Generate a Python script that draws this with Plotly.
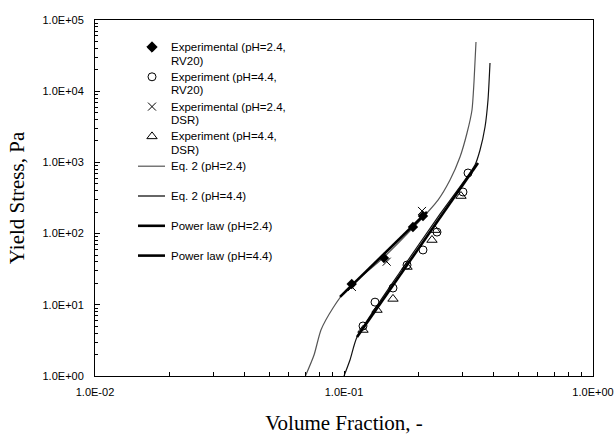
import plotly.graph_objects as go

# ---- measured yield stress vs. volume fraction ----
# pH = 2.4, RV20 viscometer
phi_rv20_24 = [0.1074, 0.1447, 0.1892, 0.2076]
tau_rv20_24 = [19.6, 45.4, 124, 177]
# pH = 4.4, RV20 viscometer
phi_rv20_44 = [0.1192, 0.1332, 0.1573, 0.1791, 0.2076, 0.2363, 0.3005, 0.3148]
tau_rv20_44 = [5.04, 10.9, 17.2, 36.2, 58.9, 105, 384, 710]
# pH = 2.4, DSR rheometer
phi_dsr_24 = [0.1076, 0.1484, 0.2057]
tau_dsr_24 = [17.8, 40.3, 208]
# pH = 4.4, DSR rheometer
phi_dsr_44 = [0.1192, 0.1357, 0.1573, 0.1791, 0.2256, 0.2320, 0.2950]
tau_dsr_44 = [4.43, 8.45, 12.1, 34.0, 81.3, 112, 337]

# ---- Eq. 2 model curves ----
phi_eq2_24 = [0.070, 0.0758, 0.0808, 0.0903, 0.1019, 0.1434, 0.1892, 0.2385,
              0.2665, 0.2923, 0.3119, 0.3266, 0.3327, 0.3389]
tau_eq2_24 = [1.0, 1.97, 4.43, 9.02, 16.1, 45.4, 120, 296,
              566, 1191, 2588, 5445, 13460, 49100]
phi_eq2_44 = [0.100, 0.1057, 0.1128, 0.1678, 0.2429, 0.3358, 0.3518, 0.3684,
              0.3787, 0.3858]
tau_eq2_44 = [1.0, 1.68, 3.53, 28.9, 188, 919, 1494, 3142, 7520, 24900]

# ---- power-law fits (end points) ----
phi_pl_24 = [0.0964, 0.2154]
tau_pl_24 = [12.9, 201]
phi_pl_44 = [0.1128, 0.3453]
tau_pl_44 = [3.53, 980]

# axis ticks
x_ticks = [0.01, 0.1, 1]
x_text = ["1.0E-02", "1.0E-01", "1.0E+00"]
y_ticks = [1, 10, 100, 1000, 10000, 100000]
y_text = ["1.0E+00", "1.0E+01", "1.0E+02", "1.0E+03", "1.0E+04", "1.0E+05"]

# legend entries: (label lines, kind)
legend_items = [
    (["Experimental (pH=2.4,", "RV20)"], "diamond"),
    (["Experiment (pH=4.4,", "RV20)"], "circle-open"),
    (["Experimental (pH=2.4,", "DSR)"], "x-thin-open"),
    (["Experiment (pH=4.4,", "DSR)"], "triangle-up-open"),
    (["Eq. 2 (pH=2.4)"], "thin-light"),
    (["Eq. 2 (pH=4.4)"], "thin"),
    (["Power law (pH=2.4)"], "thick"),
    (["Power law (pH=4.4)"], "thick"),
]

W, H = 616, 435
L, R, T, B = 95, 593, 20, 376

fig = go.Figure()

# model curves
fig.add_trace(go.Scatter(x=phi_eq2_24, y=tau_eq2_24, mode="lines",
                         line=dict(color="#555555", width=1.2, shape="spline", smoothing=0.6),
                         hoverinfo="skip"))
fig.add_trace(go.Scatter(x=phi_eq2_44, y=tau_eq2_44, mode="lines",
                         line=dict(color="#111111", width=1.2, shape="spline", smoothing=0.6),
                         hoverinfo="skip"))
fig.add_trace(go.Scatter(x=phi_pl_24, y=tau_pl_24, mode="lines",
                         line=dict(color="black", width=2.6), hoverinfo="skip"))
fig.add_trace(go.Scatter(x=phi_pl_44, y=tau_pl_44, mode="lines",
                         line=dict(color="black", width=2.6), hoverinfo="skip"))

# experimental points
fig.add_trace(go.Scatter(x=phi_rv20_24, y=tau_rv20_24, mode="markers",
                         marker=dict(symbol="diamond", size=8, color="black")))
fig.add_trace(go.Scatter(x=phi_rv20_44, y=tau_rv20_44, mode="markers",
                         marker=dict(symbol="circle-open", size=8, color="black",
                                     line=dict(width=1))))
fig.add_trace(go.Scatter(x=phi_dsr_24, y=tau_dsr_24, mode="markers",
                         marker=dict(symbol="x-thin-open", size=8, color="black",
                                     line=dict(width=1, color="black"))))
fig.add_trace(go.Scatter(x=phi_dsr_44, y=tau_dsr_44, mode="markers",
                         marker=dict(symbol="triangle-up-open", size=9, color="black",
                                     line=dict(width=1))))

# legend drawn on a pixel-coordinate overlay
leg_sym_x, leg_line_x0, leg_line_x1, leg_text_x = 152, 138, 165, 169
leg_row0, leg_row_step, leg_line2 = 47, 29.8, 13.5
annotations = []
shapes = []
for i, (lines, kind) in enumerate(legend_items):
    yr = leg_row0 + i * leg_row_step
    for j, txt in enumerate(lines):
        annotations.append(dict(
            x=leg_text_x, y=yr + j * leg_line2, xref="x2", yref="y2",
            text=txt, showarrow=False, xanchor="left", yanchor="middle",
            font=dict(family="Liberation Sans, Arial", size=11.5, color="black")))
    if kind in ("thin", "thin-light", "thick"):
        shapes.append(dict(
            type="line", xref="x2", yref="y2",
            x0=leg_line_x0, x1=leg_line_x1, y0=yr, y1=yr,
            line=dict(color="#555555" if kind == "thin-light" else "black",
                      width=2.6 if kind == "thick" else 1.2)))
    else:
        fig.add_trace(go.Scatter(
            x=[leg_sym_x], y=[yr], xaxis="x2", yaxis="y2", mode="markers",
            marker=dict(symbol=kind, size=9 if "triangle" in kind else 8,
                        color="black", line=dict(width=1, color="black")),
            hoverinfo="skip"))

minor_x = [k * 10 ** e for e in (-2, -1) for k in range(2, 10)]
minor_y = [k * 10 ** e for e in range(0, 5) for k in range(2, 10)]

axis_font = dict(family="Liberation Sans, Arial", size=11, color="black")
title_font = dict(family="Liberation Serif, Times New Roman", size=21, color="black")

fig.update_layout(
    width=W, height=H,
    margin=dict(l=L, r=W - R, t=T, b=H - B),
    paper_bgcolor="white", plot_bgcolor="white",
    showlegend=False,
    xaxis=dict(type="log", range=[-2, 0], tickvals=x_ticks, ticktext=x_text,
               ticks="inside", ticklen=5, tickcolor="black", tickfont=axis_font,
               ticklabelstandoff=6, automargin=False,
               showline=True, linecolor="black", linewidth=1, mirror=True,
               showgrid=False, zeroline=False,
               minor=dict(tickvals=minor_x, ticks="inside", ticklen=4,
                          tickcolor="black", showgrid=False),
               title=dict(text="Volume Fraction, -", font=title_font, standoff=18)),
    yaxis=dict(type="log", range=[0, 5], tickvals=y_ticks, ticktext=y_text,
               ticks="inside", ticklen=5, tickcolor="black", tickfont=axis_font,
               ticklabelstandoff=8, automargin=False,
               showline=True, linecolor="black", linewidth=1, mirror=True,
               showgrid=False, zeroline=False,
               minor=dict(tickvals=minor_y, ticks="inside", ticklen=3,
                          tickcolor="black", showgrid=False),
               title=dict(text="Yield Stress, Pa", font=title_font, standoff=12)),
    xaxis2=dict(range=[L, R], overlaying="x", visible=False, fixedrange=True),
    yaxis2=dict(range=[B, T], overlaying="y", visible=False, fixedrange=True),
    annotations=annotations,
    shapes=shapes,
)

fig.write_html("out.html")
